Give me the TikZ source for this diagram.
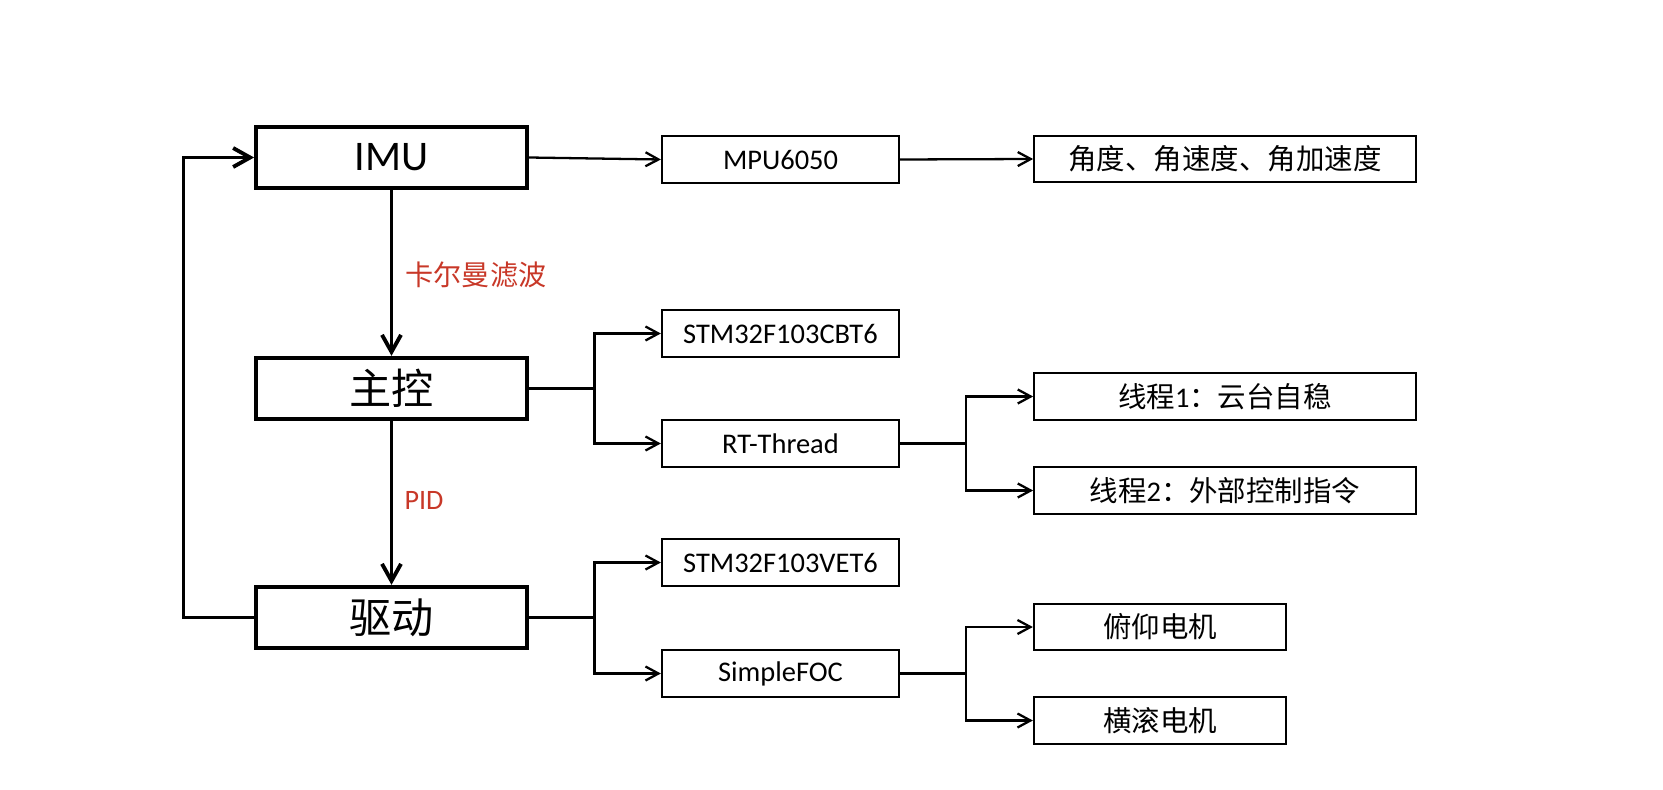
\documentclass[tikz,border=0pt]{standalone}
\usepackage{fontspec}
\setmainfont{Carlito}
\newfontfamily\cjk{Noto Sans CJK SC}
\usetikzlibrary{arrows.meta}

\begin{document}
\begin{tikzpicture}[x=0.02cm, y=-0.02cm]
	\tikzstyle{mainbox}=[rectangle, draw, line width=2.2pt, minimum width=5.42cm,
		minimum height=1.23cm, inner sep=0pt, font=\fontsize{24pt}{28pt}\selectfont]
	\tikzstyle{subbox}=[rectangle, draw, line width=1.3pt, minimum width=4.74cm,
		minimum height=0.93cm, inner sep=0pt, font=\fontsize{16.2pt}{20pt}\selectfont]
	\tikzstyle{widebox}=[subbox, minimum width=7.63cm]
	\tikzstyle{motorbox}=[subbox, minimum width=5.04cm]
	\tikzstyle{redlabel}=[inner sep=0pt, text={rgb,255:red,200;green,56;blue,40}]
	\tikzstyle{mainarrow}=[line width=2.2pt, -{Straight Barb[length=0.34cm, width=0.38cm]}]
	\tikzstyle{subarrow}=[line width=1.3pt, -{Straight Barb[length=0.26cm, width=0.28cm]}]

	\useasboundingbox (0,0) rectangle (1663,790);

	\node[mainbox] (imu) at (391.5,157.5) {IMU};
	\node[mainbox] (ctrl) at (391.5,388.5) {\cjk 主控};
	\node[mainbox] (drive) at (391.5,617.5) {\cjk 驱动};

	\node[subbox] (mpu) at (780.5,159.5) {MPU6050};
	\node[subbox] (cbt) at (780.5,333.5) {STM32F103CBT6};
	\node[subbox] (rtos) at (780.5,443.5) {RT-Thread};
	\node[subbox] (vet) at (780.5,562.5) {STM32F103VET6};
	\node[subbox] (foc) at (780.5,673.5) {SimpleFOC};

	\node[widebox] (angle) at (1225,159) {\cjk 角度、角速度、角加速度};
	\node[widebox] (taska) at (1225,396.5) {{\cjk 线程}1{\cjk ：云台自稳}};
	\node[widebox] (taskb) at (1225,490.5) {{\cjk 线程}2{\cjk ：外部控制指令}};
	\node[motorbox] (pitch) at (1160,627) {\cjk 俯仰电机};
	\node[motorbox] (roll) at (1160,720.5) {\cjk 横滚电机};

	\node[redlabel, font=\fontsize{16pt}{20pt}\selectfont] (kalman) at (476,275) {\cjk 卡尔曼滤波};
	\node[redlabel, font=\fontsize{16pt}{20pt}\selectfont] (pid) at (424,500) {PID};

	\coordinate (loop) at (183.5,388);
	\coordinate (busa) at (594.5,388.5);
	\coordinate (busb) at (966,443.5);
	\coordinate (busc) at (594.5,617.5);
	\coordinate (busd) at (966,673.5);

	\draw[mainarrow] (imu) -- (ctrl);
	\draw[mainarrow] (ctrl) -- (drive);
	\draw[mainarrow] (drive.west) -| (loop) |- (imu.west);

	\draw[subarrow] (imu.east) -- (mpu.west);
	\draw[subarrow] (mpu.east) -- (angle.west);

	\draw[subarrow] (ctrl.east) -- (busa) |- (cbt.west);
	\draw[subarrow] (busa) |- (rtos.west);
	\draw[subarrow] (rtos.east) -- (busb) |- (taska.west);
	\draw[subarrow] (busb) |- (taskb.west);

	\draw[subarrow] (drive.east) -- (busc) |- (vet.west);
	\draw[subarrow] (busc) |- (foc.west);
	\draw[subarrow] (foc.east) -- (busd) |- (pitch.west);
	\draw[subarrow] (busd) |- (roll.west);
\end{tikzpicture}
\end{document}
